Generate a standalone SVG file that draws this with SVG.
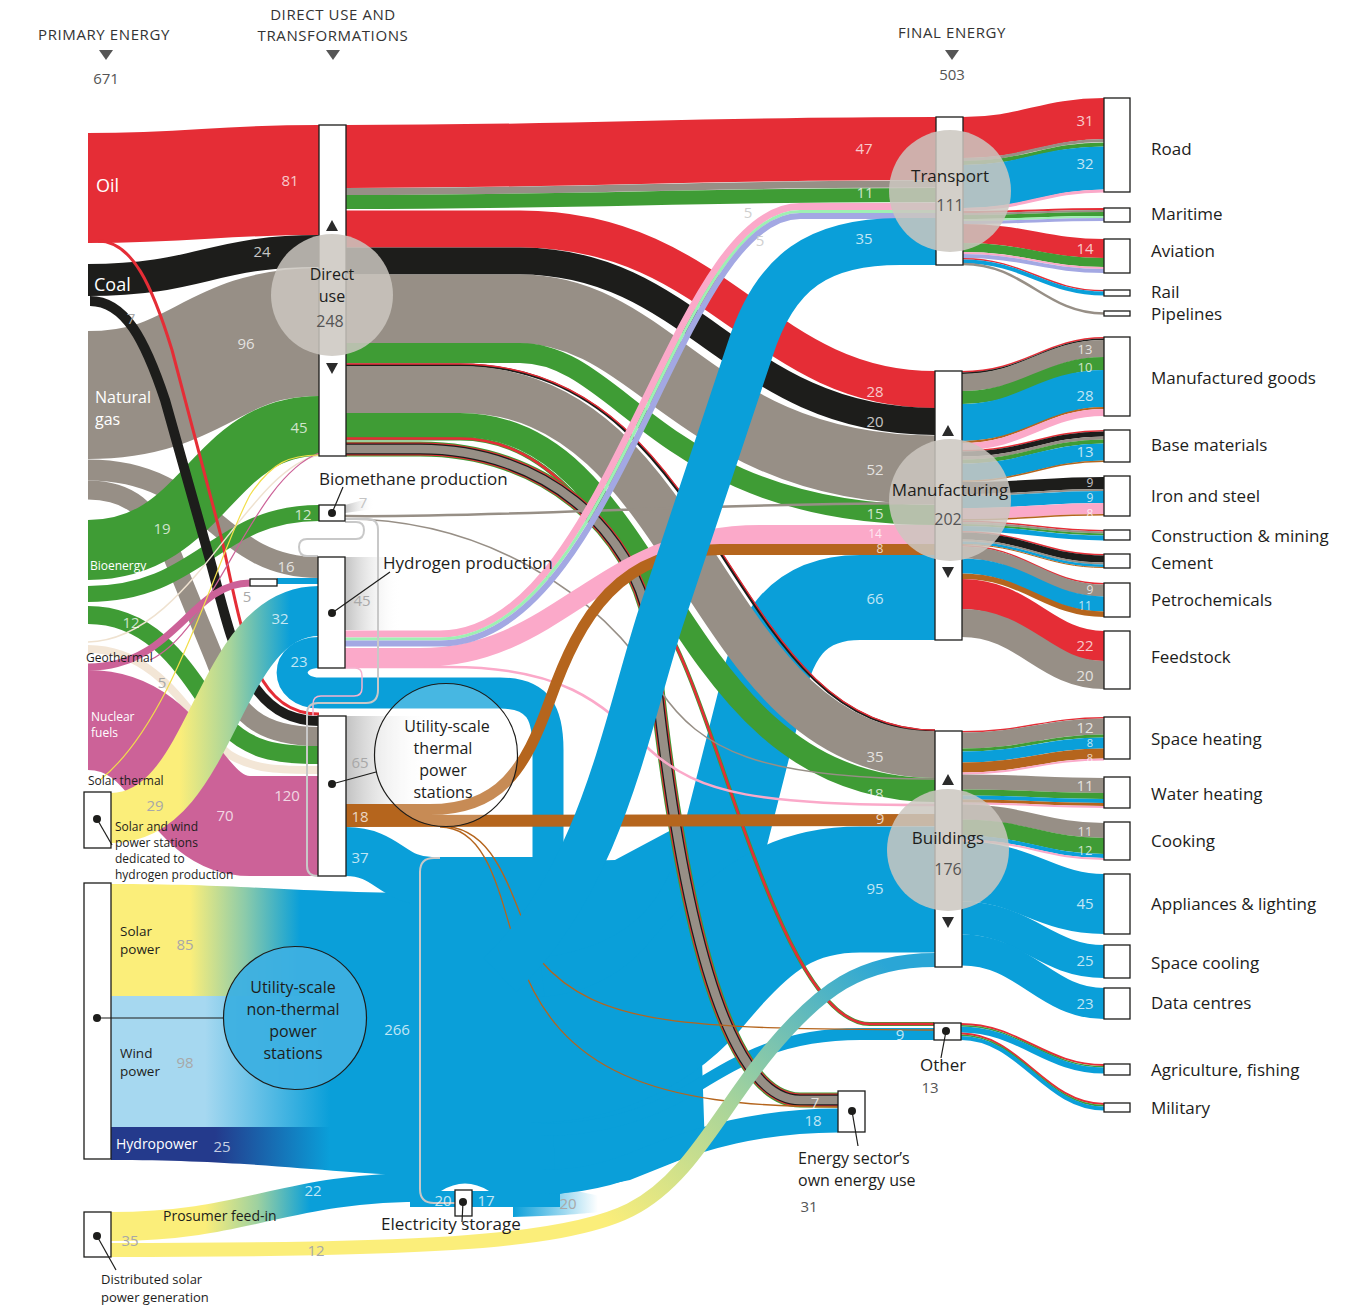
<svg xmlns="http://www.w3.org/2000/svg" width="1349" height="1307" viewBox="0 0 1349 1307">
<defs>
<linearGradient id="gSW" gradientUnits="userSpaceOnUse" x1="180" y1="0" x2="290" y2="0"><stop offset="0" stop-color="#fbee7a"/><stop offset="0.45" stop-color="#a9d59a"/><stop offset="1" stop-color="#0a9fd9"/></linearGradient>
<linearGradient id="gSolar" gradientUnits="userSpaceOnUse" x1="190" y1="0" x2="300" y2="0"><stop offset="0" stop-color="#fbee7a"/><stop offset="0.5" stop-color="#8ccbaa"/><stop offset="1" stop-color="#0a9fd9"/></linearGradient>
<linearGradient id="gWind" gradientUnits="userSpaceOnUse" x1="205" y1="0" x2="330" y2="0"><stop offset="0" stop-color="#a6d8f0"/><stop offset="1" stop-color="#0a9fd9"/></linearGradient>
<linearGradient id="gHydro" gradientUnits="userSpaceOnUse" x1="215" y1="0" x2="330" y2="0"><stop offset="0" stop-color="#243a8c"/><stop offset="1" stop-color="#0a9fd9"/></linearGradient>
<linearGradient id="gPros" gradientUnits="userSpaceOnUse" x1="205" y1="0" x2="310" y2="0"><stop offset="0" stop-color="#fbee7a"/><stop offset="0.5" stop-color="#9ed1a0"/><stop offset="1" stop-color="#0a9fd9"/></linearGradient>
<linearGradient id="gPros12" gradientUnits="userSpaceOnUse" x1="620" y1="1235" x2="880" y2="960"><stop offset="0" stop-color="#fbee7a"/><stop offset="0.45" stop-color="#a8d49a"/><stop offset="1" stop-color="#2aa6d6"/></linearGradient>
<linearGradient id="gLossB" gradientUnits="userSpaceOnUse" x1="513" y1="0" x2="598" y2="0"><stop offset="0" stop-color="#0a9fd9"/><stop offset="1" stop-color="#0a9fd9" stop-opacity="0"/></linearGradient>
<linearGradient id="gLossG" x1="0" y1="0" x2="1" y2="0"><stop offset="0" stop-color="#c2c2c2"/><stop offset="1" stop-color="#ffffff" stop-opacity="0"/></linearGradient>
</defs>
<style>
.f{fill:none;stroke-linecap:butt}
.oil{stroke:#e52d36}.coal{stroke:#1d1d1b}.gas{stroke:#978f86}.bio{stroke:#3f9c35}.nuc{stroke:#cc6298}.geo{stroke:#f3e6d6}.el{stroke:#0a9fd9}.h2{stroke:#fba9c9}.heat{stroke:#b5651d}.am{stroke:#9ef0b3}.lav{stroke:#a3a8e3}
.node rect{fill:#fff;stroke:#1d1d1b;stroke-width:1.3}
.dot{fill:#1d1d1b}
.ptr{stroke:#1d1d1b;stroke-width:1.2;fill:none}
.tri{fill:#2b2b2b}
.loop{fill:none;stroke:#c8c8c8;stroke-width:2}
.hub{fill:#cbc7c0;fill-opacity:0.85}
text{font-family:'Open Sans','Noto Sans','DejaVu Sans',sans-serif}
.lb{font-size:17px;fill:#1d1d1b}
.lc{font-size:16px;fill:#1d1d1b;text-anchor:middle}
.ls{font-size:12px;fill:#1d1d1b}
.lw{fill:#fff}
.n{font-size:15px;text-anchor:middle;fill:#fff;fill-opacity:0.75}
.ns{font-size:12px}
.nm{font-size:13px}
.ng{font-size:15px;text-anchor:middle;fill:#a8a8a8}
.hd{font-size:15px;fill:#333;text-anchor:middle;letter-spacing:0.6px}
.v{font-size:15px;fill:#555;text-anchor:middle}
.c{text-anchor:middle}
</style>
<rect width="1349" height="1307" fill="#fff"/>

<g id="connectors">
<!-- primary energy flows -->
<path class="f oil" stroke-width="110" d="M88 188 C200 188 210 180 319 180"/>
<path class="f coal" stroke-width="32" d="M88 280 C200 280 210 251 319 251"/>
<path class="f gas" stroke-width="128" d="M88 395 C200 395 210 332 319 332"/>
<path class="f gas" stroke-width="21" d="M88 470 C210 470 215 567.5 319 567.5"/>
<path class="f gas" stroke-width="19" d="M88 490 C130 490 150 510 170 550 L215 660 C235 715 260 736.5 319 736.5"/>
<path class="f bio" stroke-width="60" d="M88 550 C205 550 210 426 319 426"/>
<path class="f bio" stroke-width="16" d="M88 594 C200 594 215 513 319 513"/>
<path class="f bio" stroke-width="18" d="M88 615 C165 615 195 690 225 725 C250 750 275 755 319 755"/>
<path class="f geo" stroke-width="8" d="M88 649 C165 649 195 730 230 755 C255 770 280 770 319 770"/>
<path class="f nuc" stroke-width="100" d="M88 720 C175 720 180 826 250 826 L319 826"/>
<path class="f coal" stroke-width="10" d="M90 301 C125 301 145 340 165 400 L210 560 C232 640 245 721 319 721"/>
<path class="f oil" stroke-width="3" d="M98 241 C132 241 152 285 172 350 L222 540 C242 630 252 714 319 714"/>
<path class="f nuc" stroke-width="7" d="M88 667 C175 667 190 583 250 583"/>
<path class="f" stroke="#efe2d0" stroke-width="1.5" d="M88 642 C190 640 245 470 319 455"/>
<path class="f" stroke="#cc6298" stroke-width="1.2" d="M150 660 C215 630 250 480 319 453"/>
<path class="f" stroke="#f2de4a" stroke-width="1.2" d="M100 780 C175 720 215 560 250 495 C272 462 290 455 319 455"/>
<path class="f" stroke="url(#gSW)" stroke-width="50" d="M111 818 C215 818 215 611 319 611"/>
<path class="f el" stroke-width="6" d="M277 581 L319 581"/>

<!-- electricity pool -->
<path fill="url(#gSolar)" d="M111 884 C250 884 300 893 432 893 L432 996 L111 996 Z"/>
<rect x="111" y="996" width="321" height="131" fill="url(#gWind)"/>
<path fill="url(#gHydro)" d="M111 1127 L432 1127 L432 1176 C330 1174 260 1160 111 1160 Z"/>
<path class="f" stroke="url(#gPros)" stroke-width="29" d="M111 1226.5 C250 1226.5 280 1187 432 1187"/>
<path class="f el" stroke-width="49" d="M346 851.5 C388 851.5 392 881.5 432 881.5"/>
<rect x="410" y="857" width="150" height="350" fill="#0a9fd9"/>
<path fill="#0a9fd9" d="M548 862 L615 860 L690 820 L700 1000 L705 1150 L630 1180 L555 1195 Z"/>
<path class="f el" stroke-width="31" d="M319 652.5 C283 652.5 283 693 320 693 L500 693 C540 693 548 715 548 750 L548 875"/>
<path class="f el" stroke-width="85" d="M935 597.5 L860 597.5 C795 597.5 772 640 760 700 L722 850 C707 910 670 985 545 1000"/>
<path class="f el" stroke-width="126" d="M935 889.5 L860 889.5 C790 889.5 750 920 700 980 C660 1030 600 1060 530 1060"/>
<path class="f el" stroke-width="12" d="M934 1034 L860 1034 C780 1034 740 1060 690 1090 C640 1120 590 1130 540 1130"/>
<path class="f el" stroke-width="24" d="M838 1120.5 C760 1120.5 700 1138 650 1158 C610 1175 580 1182 540 1182"/>
<path fill="url(#gLossB)" d="M513 1182 C555 1185 580 1192 600 1196 L600 1212 C580 1214 555 1216 513 1217 Z"/>
<path fill="#fff" d="M441 1191 Q465 1176 489 1191 Z"/>
<path class="loop" stroke-width="2.5" d="M455 1203 H434 Q420 1203 420 1189 V872 Q420 858 434 858 H440"/>

<!-- direct use to final -->
<path class="f oil" stroke-width="63" d="M346 156.5 C600 156.5 680 148.5 936 148.5"/>
<path class="f gas" stroke-width="7" d="M346 191.5 C600 191.5 680 184 936 184"/>
<path class="f bio" stroke-width="14" d="M346 202 C600 202 680 195 936 195"/>
<path class="f oil" stroke-width="37" d="M346 229 L520 229 C720 229 760 389.5 935 389.5"/>
<path class="f coal" stroke-width="27" d="M346 261 L520 261 C695 261 735 421.5 935 421.5"/>
<path class="f gas" stroke-width="69" d="M346 309 L520 309 C657 309 697 470 935 470"/>
<path class="f bio" stroke-width="20" d="M346 353 L520 353 C622 353 662 515 935 515"/>
<path class="f coal" stroke-width="3" d="M346 365 L460 365 C724 365 724 731 935 731"/>
<path class="f oil" stroke-width="1.4" d="M346 364 L460 364 C725 364 725 730 935 730"/>
<path class="f gas" stroke-width="47" d="M346 389.5 L460 389.5 C700 389.5 700 754.5 935 754.5"/>
<path class="f bio" stroke-width="24" d="M346 425 L460 425 C664.5 425 664.5 790 935 790"/>
<path class="f bio" stroke-width="4" d="M346 438.5 L460 438.5 C555.5 438.5 603.3 529.8 662.6 621 C717 705 780 1024 870 1024 L934 1024"/>
<path class="f oil" stroke-width="2.5" d="M346 438.5 L460 438.5 C555.5 438.5 603.3 529.8 662.6 621 C717 705 780 1024 870 1024 L934 1024"/>
<path class="f bio" stroke-width="15" d="M346 449 L420 449 C545 449 632 530 650 625 C664 760 700 1100 800 1100 L838 1100"/>
<path class="f oil" stroke-width="13" d="M346 449 L420 449 C545 449 632 530 650 625 C664 760 700 1100 800 1100 L838 1100"/>
<path class="f coal" stroke-width="11" d="M346 449 L420 449 C545 449 632 530 650 625 C664 760 700 1100 800 1100 L838 1100"/>
<path class="f gas" stroke-width="8.5" d="M346 449 L420 449 C545 449 632 530 650 625 C664 760 700 1100 800 1100 L838 1100"/>

<!-- heat -->
<path class="f heat" stroke-width="1.3" d="M440 826 C500 826 510 900 540 960 C600 1030 700 1028 934 1030"/>
<path class="f heat" stroke-width="1.3" d="M440 827 C490 827 500 900 520 960 C560 1070 650 1107 838 1107"/>

<!-- hydrogen and biomethane outputs -->
<path class="f gas" stroke-width="2.5" d="M345 516 C500 518 700 503 935 503"/>
<path class="f gas" stroke-width="1.5" d="M345 519 C480 519 600 590 660 690 C700 750 760 779 935 779"/>
<path class="f h2" stroke-width="2.5" d="M345 667 L450 667 C560 667 600 700 650 750 C700 795 760 805 935 805"/>
<path class="f h2" stroke-width="19" d="M345 657.5 L420 657.5 C560 657.5 600 534.5 760 534.5 L935 534.5"/>
<path class="f heat" stroke-width="12" d="M346 821 C600 821 700 820 935 820"/>
<path class="f heat" stroke-width="11" d="M346 809.5 L430 809.5 C500 809.5 525 770 550 700 C580 615 620 549.5 720 549.5 L935 549.5"/>
<path class="f h2" stroke-width="7" d="M345 634 L440 634 C610 634 670 206.5 800 206.5 L936 206.5"/>
<path class="f am" stroke-width="3" d="M345 639 L440 639 C614 639 674 211.5 800 211.5 L936 211.5"/>
<path class="f lav" stroke-width="6" d="M345 643.5 L440 643.5 C618 643.5 678 216 800 216 L936 216"/>

<!-- electricity to transport -->
<path class="f el" stroke-width="47" d="M936 241.5 L900 241.5 C820 241.5 775 270 750 350 L660 620 C625 730 600 880 500 975"/>

<!-- distributed solar to buildings -->
<path class="f" stroke="url(#gPros12)" stroke-width="14" d="M111 1250 C400 1250 560 1245 630 1210 C690 1180 720 1110 770 1050 C820 990 860 960 935 960"/>

<!-- loss gradients -->
<rect x="346" y="716" width="84" height="88" fill="url(#gLossG)"/>
<rect x="345" y="557" width="55" height="73" fill="url(#gLossG)"/>
<path fill="url(#gLossG)" d="M345 505 L374 497 L374 509 L345 513 Z"/>

<!-- light loops -->
<path class="loop" d="M345 522 H356 Q364 522 364 530 Q364 539 356 539 H307 Q299 539 299 547 Q299 556 307 556 H318"/>
<path class="f" stroke="#f6b3cf" stroke-width="1.5" d="M345 668 H355 Q362 668 362 676 V688 Q362 696 354 696 H321 Q313 696 313 704 V716"/>
<path class="loop" d="M345 519 H368 Q378 519 378 530 V690 Q378 703 366 703 H318 Q307 703 307 714 V866 Q307 876 318 876"/>

<!-- transport outputs -->
<path class="f oil" stroke-width="41" d="M963 137.5 C1025 137.5 1045 118.5 1104 118.5"/>
<path class="f gas" stroke-width="3" d="M963 159.5 C1025 159.5 1045 140.5 1104 140.5"/>
<path class="f bio" stroke-width="4" d="M963 163 C1025 163 1045 144.5 1104 144.5"/>
<path class="f el" stroke-width="43" d="M963 186.5 C1025 186.5 1045 168 1104 168"/>
<path class="f h2" stroke-width="3" d="M963 209.5 C1025 209.5 1045 191 1104 191"/>
<path class="f oil" stroke-width="2" d="M963 212 C1025 212 1045 209 1104 209"/>
<path class="f gas" stroke-width="2" d="M963 214 C1025 214 1045 211 1104 211"/>
<path class="f bio" stroke-width="4" d="M963 217 C1025 217 1045 214 1104 214"/>
<path class="f am" stroke-width="2" d="M963 220 C1025 220 1045 217 1104 217"/>
<path class="f lav" stroke-width="3" d="M963 222.5 C1025 222.5 1045 219.5 1104 219.5"/>
<path class="f oil" stroke-width="19" d="M963 233.5 C1025 233.5 1045 248.5 1104 248.5"/>
<path class="f bio" stroke-width="9" d="M963 247.5 C1025 247.5 1045 262.5 1104 262.5"/>
<path class="f h2" stroke-width="2" d="M963 253 C1025 253 1045 268 1104 268"/>
<path class="f lav" stroke-width="4" d="M963 256 C1025 256 1045 271 1104 271"/>
<path class="f oil" stroke-width="1.5" d="M963 258.75 C1025 258.75 1045 290.75 1104 290.75"/>
<path class="f el" stroke-width="4" d="M963 261.5 C1025 261.5 1045 293.5 1104 293.5"/>
<path class="f gas" stroke-width="2.5" d="M963 264 C1025 264 1045 313.5 1104 313.5"/>

<!-- manufacturing outputs -->
<path class="f oil" stroke-width="1.5" d="M962 371.75 C1025 371.75 1045 337.75 1104 337.75"/>
<path class="f coal" stroke-width="1.5" d="M962 373.25 C1025 373.25 1045 339.25 1104 339.25"/>
<path class="f gas" stroke-width="17" d="M962 382.5 C1025 382.5 1045 348.5 1104 348.5"/>
<path class="f bio" stroke-width="13" d="M962 397.5 C1025 397.5 1045 363.5 1104 363.5"/>
<path class="f el" stroke-width="37" d="M962 422.5 C1025 422.5 1045 388.5 1104 388.5"/>
<path class="f heat" stroke-width="2" d="M962 442 C1025 442 1045 408 1104 408"/>
<path class="f h2" stroke-width="7" d="M962 446.5 C1025 446.5 1045 412.5 1104 412.5"/>
<path class="f oil" stroke-width="1.5" d="M962 450.75 C1025 450.75 1045 430.75 1104 430.75"/>
<path class="f coal" stroke-width="5" d="M962 454 C1025 454 1045 434 1104 434"/>
<path class="f gas" stroke-width="3" d="M962 458 C1025 458 1045 438 1104 438"/>
<path class="f bio" stroke-width="4" d="M962 461.5 C1025 461.5 1045 441.5 1104 441.5"/>
<path class="f el" stroke-width="17" d="M962 472 C1025 472 1045 452 1104 452"/>
<path class="f heat" stroke-width="1.5" d="M962 481.25 C1025 481.25 1045 461.25 1104 461.25"/>
<path class="f coal" stroke-width="12" d="M962 488 C1025 488 1045 483 1104 483"/>
<path class="f gas" stroke-width="2" d="M962 495 C1025 495 1045 490 1104 490"/>
<path class="f el" stroke-width="12" d="M962 502 C1025 502 1045 497 1104 497"/>
<path class="f h2" stroke-width="11" d="M962 513.5 C1025 513.5 1045 508.5 1104 508.5"/>
<path class="f heat" stroke-width="1.5" d="M962 519.75 C1025 519.75 1045 514.75 1104 514.75"/>
<path class="f oil" stroke-width="1.5" d="M962 521.25 C1025 521.25 1045 530.75 1104 530.75"/>
<path class="f gas" stroke-width="2" d="M962 523 C1025 523 1045 532.5 1104 532.5"/>
<path class="f bio" stroke-width="2" d="M962 525 C1025 525 1045 534.5 1104 534.5"/>
<path class="f el" stroke-width="5" d="M962 528.5 C1025 528.5 1045 538 1104 538"/>
<path class="f oil" stroke-width="1.5" d="M962 531.75 C1025 531.75 1045 554.75 1104 554.75"/>
<path class="f coal" stroke-width="7" d="M962 536 C1025 536 1045 559 1104 559"/>
<path class="f gas" stroke-width="2" d="M962 540.5 C1025 540.5 1045 563.5 1104 563.5"/>
<path class="f el" stroke-width="2.5" d="M962 542.75 C1025 542.75 1045 565.75 1104 565.75"/>
<path class="f heat" stroke-width="1" d="M962 544.5 C1025 544.5 1045 567.5 1104 567.5"/>
<path class="f oil" stroke-width="1.5" d="M962 545.75 C1025 545.75 1045 583.75 1104 583.75"/>
<path class="f gas" stroke-width="12" d="M962 552.5 C1025 552.5 1045 590.5 1104 590.5"/>
<path class="f el" stroke-width="15" d="M962 566 C1025 566 1045 604 1104 604"/>
<path class="f heat" stroke-width="5.5" d="M962 576.25 C1025 576.25 1045 614.25 1104 614.25"/>
<path class="f oil" stroke-width="30" d="M962 594 C1025 594 1045 646 1104 646"/>
<path class="f gas" stroke-width="28" d="M962 623 C1025 623 1045 675 1104 675"/>

<!-- buildings outputs -->
<path class="f oil" stroke-width="1.5" d="M962 731.75 C1025 731.75 1045 717.75 1104 717.75"/>
<path class="f gas" stroke-width="16" d="M962 740.5 C1025 740.5 1045 726.5 1104 726.5"/>
<path class="f bio" stroke-width="3" d="M962 750 C1025 750 1045 736 1104 736"/>
<path class="f el" stroke-width="11" d="M962 757 C1025 757 1045 743 1104 743"/>
<path class="f heat" stroke-width="10" d="M962 767.5 C1025 767.5 1045 753.5 1104 753.5"/>
<path class="f h2" stroke-width="2" d="M962 773.5 C1025 773.5 1045 759.5 1104 759.5"/>
<path class="f gas" stroke-width="15" d="M962 782 C1025 782 1045 785.5 1104 785.5"/>
<path class="f bio" stroke-width="6" d="M962 792.5 C1025 792.5 1045 796 1104 796"/>
<path class="f el" stroke-width="4" d="M962 797.5 C1025 797.5 1045 801 1104 801"/>
<path class="f heat" stroke-width="3" d="M962 801 C1025 801 1045 804.5 1104 804.5"/>
<path class="f h2" stroke-width="2" d="M962 803.5 C1025 803.5 1045 807 1104 807"/>
<path class="f gas" stroke-width="15" d="M962 812 C1025 812 1045 830.5 1104 830.5"/>
<path class="f bio" stroke-width="16" d="M962 827.5 C1025 827.5 1045 846 1104 846"/>
<path class="f el" stroke-width="4" d="M962 837.5 C1025 837.5 1045 856 1104 856"/>
<path class="f h2" stroke-width="2" d="M962 840.5 C1025 840.5 1045 859 1104 859"/>
<path class="f el" stroke-width="60" d="M962 871.5 C1025 871.5 1045 904 1104 904"/>
<path class="f el" stroke-width="33" d="M962 918 C1025 918 1045 961.5 1104 961.5"/>
<path class="f el" stroke-width="31" d="M962 950 C1025 950 1045 1003.5 1104 1003.5"/>

<!-- other outputs -->
<path class="f oil" stroke-width="2" d="M961 1024 C1020 1024 1045 1065 1104 1065"/>
<path class="f bio" stroke-width="1.5" d="M961 1025.75 C1020 1025.75 1045 1066.75 1104 1066.75"/>
<path class="f el" stroke-width="6" d="M961 1029.5 C1020 1029.5 1045 1070.5 1104 1070.5"/>
<path class="f oil" stroke-width="2" d="M961 1033.5 C1020 1033.5 1045 1104 1104 1104"/>
<path class="f bio" stroke-width="1.5" d="M961 1035.25 C1020 1035.25 1045 1105.75 1104 1105.75"/>
<path class="f el" stroke-width="4" d="M961 1038 C1020 1038 1045 1108.5 1104 1108.5"/>
</g>

<!-- nodes -->
<g id="node-direct-use" class="node"><rect x="319" y="125" width="27" height="331"/></g>
<g id="node-biomethane" class="node"><rect x="319" y="505" width="26" height="16"/></g>
<g id="node-hydrogen" class="node"><rect x="318" y="557" width="27" height="111"/></g>
<g id="node-thermal" class="node"><rect x="318" y="716" width="28" height="160"/></g>
<g id="node-h2-box" class="node"><rect x="250" y="579" width="27" height="7"/></g>
<g id="node-solar-wind-h2" class="node"><rect x="84" y="792" width="27" height="56"/></g>
<g id="node-non-thermal" class="node"><rect x="84" y="883" width="27" height="276"/></g>
<g id="node-distributed-solar" class="node"><rect x="84" y="1212" width="27" height="45"/></g>
<g id="node-storage" class="node"><rect x="455" y="1190" width="17" height="26"/></g>
<g id="node-transport" class="node"><rect x="936" y="117" width="27" height="148"/></g>
<g id="node-manufacturing" class="node"><rect x="935" y="371" width="27" height="269"/></g>
<g id="node-buildings" class="node"><rect x="935" y="731" width="27" height="236"/></g>
<g id="node-other" class="node"><rect x="934" y="1023" width="27" height="17"/></g>
<g id="node-energy-sector" class="node"><rect x="838" y="1091" width="27" height="41"/></g>
<g id="node-road" class="node"><rect x="1104" y="98" width="26" height="94"/></g>
<g id="node-maritime" class="node"><rect x="1104" y="208" width="26" height="14"/></g>
<g id="node-aviation" class="node"><rect x="1104" y="239" width="26" height="34"/></g>
<g id="node-rail" class="node"><rect x="1104" y="290" width="26" height="6"/></g>
<g id="node-pipelines" class="node"><rect x="1104" y="311" width="26" height="5"/></g>
<g id="node-manufactured-goods" class="node"><rect x="1104" y="337" width="26" height="79"/></g>
<g id="node-base-materials" class="node"><rect x="1104" y="430" width="26" height="32"/></g>
<g id="node-iron-steel" class="node"><rect x="1104" y="476" width="26" height="40"/></g>
<g id="node-construction" class="node"><rect x="1104" y="530" width="26" height="10"/></g>
<g id="node-cement" class="node"><rect x="1104" y="554" width="26" height="14"/></g>
<g id="node-petrochemicals" class="node"><rect x="1104" y="583" width="26" height="34"/></g>
<g id="node-feedstock" class="node"><rect x="1104" y="631" width="26" height="58"/></g>
<g id="node-space-heating" class="node"><rect x="1104" y="717" width="26" height="42"/></g>
<g id="node-water-heating" class="node"><rect x="1104" y="777" width="26" height="31"/></g>
<g id="node-cooking" class="node"><rect x="1104" y="822" width="26" height="38"/></g>
<g id="node-appliances" class="node"><rect x="1104" y="874" width="26" height="60"/></g>
<g id="node-space-cooling" class="node"><rect x="1104" y="945" width="26" height="33"/></g>
<g id="node-data-centres" class="node"><rect x="1104" y="988" width="26" height="31"/></g>
<g id="node-agriculture" class="node"><rect x="1104" y="1064" width="26" height="11"/></g>
<g id="node-military" class="node"><rect x="1104" y="1103" width="26" height="9"/></g>

<!-- node markers -->
<g id="markers">
<path class="tri" d="M326 231 L338 231 L332 220 Z"/><path class="tri" d="M326 363 L338 363 L332 374 Z"/>
<path class="tri" d="M942 436 L954 436 L948 425 Z"/><path class="tri" d="M942 567 L954 567 L948 578 Z"/>
<path class="tri" d="M942 785 L954 785 L948 774 Z"/><path class="tri" d="M942 917 L954 917 L948 928 Z"/>
<line class="ptr" x1="332" y1="513" x2="343" y2="487"/><circle class="dot" cx="332" cy="513" r="4"/>
<line class="ptr" x1="332" y1="613" x2="390" y2="572"/><circle class="dot" cx="332" cy="613" r="4"/>
<line class="ptr" x1="332" y1="784" x2="376" y2="772"/><circle class="dot" cx="332" cy="784" r="4"/>
<line class="ptr" x1="97" y1="819" x2="112" y2="845"/><circle class="dot" cx="97" cy="819" r="4"/>
<line class="ptr" x1="97" y1="1018" x2="224" y2="1018"/><circle class="dot" cx="97" cy="1018" r="4"/>
<line class="ptr" x1="97" y1="1236" x2="116" y2="1270"/><circle class="dot" cx="97" cy="1236" r="4"/>
<line class="ptr" x1="463" y1="1202" x2="462" y2="1222"/><circle class="dot" cx="463" cy="1202" r="4"/>
<line class="ptr" x1="946" y1="1031" x2="941" y2="1058"/><circle class="dot" cx="946" cy="1031" r="4"/>
<line class="ptr" x1="852" y1="1111" x2="858" y2="1146"/><circle class="dot" cx="852" cy="1111" r="4"/>
</g>

<!-- hub circles -->
<g id="hub-direct-use"><circle class="hub" cx="332" cy="295" r="61"/><text class="lc" x="332" y="280">Direct</text><text class="lc" x="332" y="302">use</text><text class="v" x="330" y="327" style="font-size:16px">248</text></g>
<g id="hub-transport"><circle class="hub" cx="950" cy="191" r="61"/><text class="lb c" x="950" y="182">Transport</text><text class="v" x="950" y="211" style="font-size:16px">111</text></g>
<g id="hub-manufacturing"><circle class="hub" cx="950" cy="500" r="61"/><text class="lb c" x="950" y="496">Manufacturing</text><text class="v" x="948" y="525" style="font-size:16px">202</text></g>
<g id="hub-buildings"><circle class="hub" cx="948" cy="850" r="61"/><text class="lb c" x="948" y="844">Buildings</text><text class="v" x="948" y="875" style="font-size:16px">176</text></g>
<g id="hub-thermal"><circle cx="446" cy="755" r="71.5" fill="#fff" fill-opacity="0.25" stroke="#1d1d1b" stroke-width="1.2"/>
<text class="lc" x="447" y="732">Utility-scale</text><text class="lc" x="443" y="754">thermal</text><text class="lc" x="443" y="776">power</text><text class="lc" x="443" y="798">stations</text></g>
<g id="hub-non-thermal"><circle cx="295" cy="1018" r="71.5" fill="#3db0e1" fill-opacity="0.95" stroke="#1d1d1b" stroke-width="1.2"/>
<text class="lc" x="293" y="993">Utility-scale</text><text class="lc" x="293" y="1015">non-thermal</text><text class="lc" x="293" y="1037">power</text><text class="lc" x="293" y="1059">stations</text></g>

<!-- headers -->
<g id="headers">
<text class="hd" x="104" y="40">PRIMARY ENERGY</text>
<path d="M99 50 L113 50 L106 60 Z" fill="#555"/>
<text class="v" x="106" y="84">671</text>
<text class="hd" x="333" y="20">DIRECT USE AND</text>
<text class="hd" x="333" y="41">TRANSFORMATIONS</text>
<path d="M326 50 L340 50 L333 60 Z" fill="#555"/>
<text class="hd" x="952" y="38">FINAL ENERGY</text>
<path d="M945 50 L959 50 L952 60 Z" fill="#555"/>
<text class="v" x="952" y="80">503</text>
</g>

<!-- labels -->
<g id="labels">
<text class="lw" x="96" y="192" style="font-size:18px">Oil</text>
<text class="lw" x="94" y="291" style="font-size:18px">Coal</text>
<text class="lw" x="95" y="403" style="font-size:16px">Natural</text>
<text class="lw" x="95" y="425" style="font-size:16px">gas</text>
<text class="lw" x="90" y="570" style="font-size:12px">Bioenergy</text>
<text class="ls" x="86" y="662">Geothermal</text>
<text class="lw" x="91" y="721" style="font-size:12px">Nuclear</text>
<text class="lw" x="91" y="737" style="font-size:12px">fuels</text>
<text class="ls" x="88" y="785">Solar thermal</text>
<text class="ls" x="115" y="831">Solar and wind</text>
<text class="ls" x="115" y="847">power stations</text>
<text class="ls" x="115" y="863">dedicated to</text>
<text class="ls" x="115" y="879">hydrogen production</text>
<text class="lb" x="120" y="936" style="font-size:13.5px">Solar</text>
<text class="lb" x="120" y="954" style="font-size:13.5px">power</text>
<text class="lb" x="120" y="1058" style="font-size:13.5px">Wind</text>
<text class="lb" x="120" y="1076" style="font-size:13.5px">power</text>
<text class="lw" x="116" y="1149" style="font-size:14px">Hydropower</text>
<text class="lb" x="163" y="1221" style="font-size:14px">Prosumer feed-in</text>
<text class="lb" x="101" y="1284" style="font-size:13px">Distributed solar</text>
<text class="lb" x="101" y="1302" style="font-size:13px">power generation</text>
<text class="lb" x="319" y="485">Biomethane production</text>
<text class="lb" x="383" y="569">Hydrogen production</text>
<text class="lb" x="381" y="1230">Electricity storage</text>
<text class="lb" x="920" y="1071">Other</text>
<text class="v" x="930" y="1093">13</text>
<text class="lb" x="798" y="1164" style="font-size:16px">Energy sector’s</text>
<text class="lb" x="798" y="1186" style="font-size:16px">own energy use</text>
<text class="v" x="809" y="1212">31</text>
<text class="lb" x="1151" y="155">Road</text>
<text class="lb" x="1151" y="220">Maritime</text>
<text class="lb" x="1151" y="257">Aviation</text>
<text class="lb" x="1151" y="298">Rail</text>
<text class="lb" x="1151" y="320">Pipelines</text>
<text class="lb" x="1151" y="384">Manufactured goods</text>
<text class="lb" x="1151" y="451">Base materials</text>
<text class="lb" x="1151" y="502">Iron and steel</text>
<text class="lb" x="1151" y="542">Construction &amp; mining</text>
<text class="lb" x="1151" y="569">Cement</text>
<text class="lb" x="1151" y="606">Petrochemicals</text>
<text class="lb" x="1151" y="663">Feedstock</text>
<text class="lb" x="1151" y="745">Space heating</text>
<text class="lb" x="1151" y="800">Water heating</text>
<text class="lb" x="1151" y="847">Cooking</text>
<text class="lb" x="1151" y="910">Appliances &amp; lighting</text>
<text class="lb" x="1151" y="969">Space cooling</text>
<text class="lb" x="1151" y="1009">Data centres</text>
<text class="lb" x="1151" y="1076">Agriculture, fishing</text>
<text class="lb" x="1151" y="1114">Military</text>
</g>

<!-- values -->
<g id="values">
<text class="n" x="290" y="186">81</text>
<text class="n" x="262" y="257">24</text>
<text class="ng" x="131" y="324">7</text>
<text class="n" x="246" y="349">96</text>
<text class="n" x="299" y="433">45</text>
<text class="n" x="162" y="534">19</text>
<text class="n" x="303" y="520">12</text>
<text class="ng" x="363" y="508" style="fill:#c4c4c4">7</text>
<text class="n" x="286" y="572">16</text>
<text class="ng" x="247" y="602">5</text>
<text class="n" x="280" y="624">32</text>
<text class="ng" x="362" y="606">45</text>
<text class="n" x="131" y="628">12</text>
<text class="n" x="299" y="667">23</text>
<text class="ng" x="162" y="688">5</text>
<text class="ng" x="360" y="768">65</text>
<text class="n" x="287" y="801">120</text>
<text class="ng" x="155" y="811">29</text>
<text class="n" x="225" y="821">70</text>
<text class="n" x="360" y="822">18</text>
<text class="n" x="360" y="863">37</text>
<text class="ng" x="185" y="950">85</text>
<text class="ng" x="185" y="1068">98</text>
<text class="n" x="222" y="1152">25</text>
<text class="n" x="397" y="1035">266</text>
<text class="n" x="313" y="1196">22</text>
<text class="ng" x="130" y="1246">35</text>
<text class="ng" x="316" y="1256">12</text>
<text class="n" x="443" y="1206">20</text>
<text class="n" x="486" y="1206">17</text>
<text class="ng" x="568" y="1209">20</text>
<text class="n" x="864" y="154">47</text>
<text class="n" x="865" y="198">11</text>
<text class="ng" x="748" y="218" style="fill:#cfcfcf">5</text>
<text class="ng" x="760" y="246" style="fill:#cfcfcf">5</text>
<text class="n" x="864" y="244">35</text>
<text class="n" x="875" y="397">28</text>
<text class="n" x="875" y="427">20</text>
<text class="n" x="875" y="475">52</text>
<text class="n" x="875" y="519">15</text>
<text class="n ns" x="875" y="538">14</text>
<text class="n ns" x="880" y="553">8</text>
<text class="n" x="875" y="604">66</text>
<text class="n" x="875" y="762">35</text>
<text class="n" x="875" y="799">18</text>
<text class="n" x="880" y="824">9</text>
<text class="n" x="875" y="894">95</text>
<text class="n" x="900" y="1040">9</text>
<text class="n" x="815" y="1108">7</text>
<text class="n" x="813" y="1126">18</text>
<text class="n" x="1085" y="126">31</text>
<text class="n" x="1085" y="169">32</text>
<text class="n" x="1085" y="254">14</text>
<text class="n nm" x="1085" y="354">13</text>
<text class="n nm" x="1085" y="372">10</text>
<text class="n" x="1085" y="401">28</text>
<text class="n" x="1085" y="457">13</text>
<text class="n ns" x="1090" y="487">9</text>
<text class="n ns" x="1090" y="502">9</text>
<text class="n ns" x="1090" y="518">8</text>
<text class="n ns" x="1090" y="594">9</text>
<text class="n ns" x="1085" y="610">11</text>
<text class="n" x="1085" y="651">22</text>
<text class="n" x="1085" y="681">20</text>
<text class="n" x="1085" y="733">12</text>
<text class="n" x="1090" y="747" style="font-size:11px">8</text>
<text class="n" x="1090" y="762" style="font-size:11px">8</text>
<text class="n" x="1085" y="791">11</text>
<text class="n nm" x="1085" y="836">11</text>
<text class="n nm" x="1085" y="855">12</text>
<text class="n" x="1085" y="909">45</text>
<text class="n" x="1085" y="966">25</text>
<text class="n" x="1085" y="1009">23</text>
</g>
</svg>
